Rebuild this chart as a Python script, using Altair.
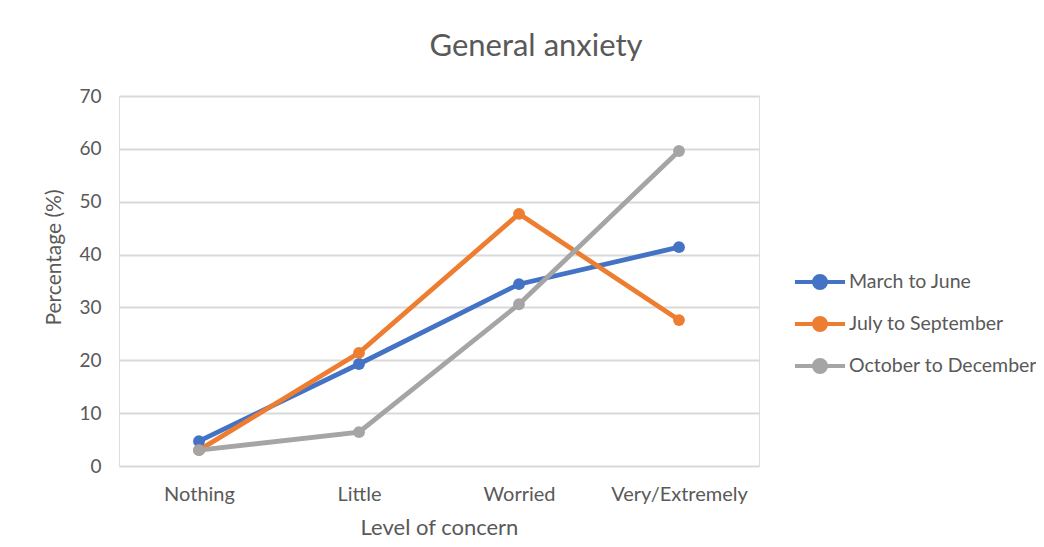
import altair as alt
import pandas as pd

categories = ["Nothing", "Little", "Worried", "Very/Extremely"]
series_names = ["March to June", "July to September", "October to December"]
march_june = [4.7, 19.3, 34.4, 41.4]
july_sept = [3.0, 21.4, 47.7, 27.6]
oct_dec = [3.0, 6.4, 30.6, 59.6]
colors = ["#4472C4", "#ED7D31", "#A5A5A5"]

rows = []
for name, vals in zip(series_names, [march_june, july_sept, oct_dec]):
    for c, v in zip(categories, vals):
        rows.append({"Level": c, "Value": v, "Series": name})
df = pd.DataFrame(rows)

FONT = "Lato"
TXT = "#595959"

# legend symbol: line with a dot in the middle
legend_path = ("M-1.67,0L-0.4,0 M0.4,0L1.67,0 "
               "M-0.4,0A0.4,0.4 0 1,1 0.4,0A0.4,0.4 0 1,1 -0.4,0Z")

x = alt.X("Level:N", sort=categories, title="Level of concern",
          scale=alt.Scale(paddingInner=0, paddingOuter=0.5),
          axis=alt.Axis(labelAngle=0, ticks=False, domain=False, grid=False,
                        labelFontSize=20, labelColor=TXT, labelFont=FONT, labelPadding=18,
                        titleFontSize=22, titleColor=TXT, titleFont=FONT, titleFontWeight="normal",
                        titlePadding=13))
y = alt.Y("Value:Q", title="Percentage (%)",
          scale=alt.Scale(domain=[0, 70]),
          axis=alt.Axis(values=[0, 10, 20, 30, 40, 50, 60, 70], ticks=False, domain=False,
                        gridColor="#D9D9D9", gridWidth=2,
                        labelFontSize=19, labelColor=TXT, labelFont=FONT, labelPadding=18,
                        titleFontSize=21, titleColor=TXT, titleFont=FONT, titleFontWeight="normal",
                        titleX=-55, titleY=161))
color = alt.Color("Series:N", sort=series_names,
                  scale=alt.Scale(domain=series_names, range=colors),
                  legend=alt.Legend(title=None, orient="none", legendX=684, legendY=169,
                                    symbolType=legend_path, symbolSize=900, symbolStrokeWidth=4,
                                    labelFontSize=19.5, labelColor=TXT, labelFont=FONT,
                                    labelLimit=300, rowPadding=11, labelOffset=12, padding=0))

lines = alt.Chart(df).mark_line(strokeWidth=4.8).encode(x=x, y=y, color=color)
points = alt.Chart(df).mark_point(filled=True, size=140, opacity=1).encode(x=x, y=y, color=color)

chart = alt.layer(lines, points).properties(
    width=640, height=370,
    title=alt.TitleParams("General anxiety", fontSize=31, color=TXT, font=FONT,
                          fontWeight="normal", anchor="middle", offset=24, dx=97),
    autosize=alt.AutoSizeParams(type="none"),
    padding={"left": 111, "top": 88, "right": 277, "bottom": 73},
).configure_view(stroke=None).configure(background="white")

chart.save("out.html", embed_options={"renderer": "svg", "actions": False})
